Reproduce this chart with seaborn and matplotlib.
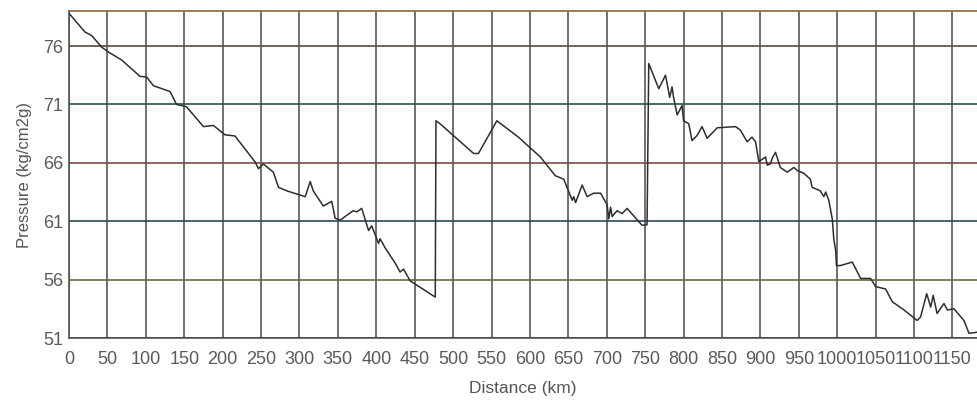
import numpy as np
import pandas as pd
import seaborn as sns
import matplotlib
matplotlib.use("Agg")
import matplotlib.pyplot as plt

# Pipeline pressure profile
distance_km = [
    0, 20.8, 29.5, 42.6, 51, 68.6, 92.5, 101, 110, 131.6, 140, 153, 175, 188, 203, 216,
    242, 246.6, 253, 266, 272.7, 283.6, 307.5, 314, 318, 331, 342, 346.5, 353, 370, 374.8,
    381, 390, 394, 403, 405, 411.7, 424.7, 431, 435.5, 444, 476.8,
    477.7, 483, 526.7, 533, 557, 585, 613.6, 633, 644, 655, 657, 659.5, 668, 674.5, 683,
    692, 700.5, 702.6, 705, 707, 713.5, 720, 726.5, 746, 752.5,
    754.7, 767.7, 776.5, 782, 785, 787, 791.7, 798, 800, 806.8, 811, 817.7, 824, 830.7,
    843.8, 867.6, 874, 882.8, 889, 893.7, 898, 906.7, 909, 913, 915.5, 919.7, 926, 935,
    943.6, 948, 956.6, 965, 967.5, 978, 982.7, 985, 989, 993.6, 995.7, 998, 999, 1004,
    1019.6, 1030.5, 1043.5, 1050, 1063, 1071.8, 1087, 1104, 1108.6, 1116.5, 1121.7, 1125,
    1130, 1139, 1143.4, 1152, 1165, 1171.6, 1182.6,
]
pressure = [
    78.8, 77.2, 76.9, 75.9, 75.5, 74.8, 73.4, 73.35, 72.6, 72.1, 71.0, 70.8, 69.1, 69.2, 68.4, 68.3,
    66.1, 65.5, 65.9, 65.2, 63.9, 63.6, 63.1, 64.4, 63.6, 62.3, 62.7, 61.25, 61.1, 61.9, 61.8,
    62.1, 60.2, 60.6, 59.1, 59.5, 58.7, 57.4, 56.65, 56.9, 55.9, 54.5,
    69.6, 69.35, 66.8, 66.8, 69.6, 68.2, 66.5, 64.9, 64.6, 62.8, 63.1, 62.6, 64.1, 63.1, 63.4,
    63.4, 62.4, 61.2, 62.2, 61.4, 61.9, 61.65, 62.1, 60.65, 60.7,
    74.5, 72.35, 73.5, 71.6, 72.5, 71.6, 70.1, 70.9, 69.6, 69.35, 67.9, 68.35, 69.1, 68.1,
    69.0, 69.1, 68.8, 67.8, 68.2, 67.8, 66.1, 66.5, 65.8, 65.9, 66.4, 66.9, 65.6, 65.2,
    65.6, 65.35, 65.1, 64.6, 63.9, 63.6, 63.1, 63.5, 62.8, 61.2, 59.4, 58.5, 57.2, 57.2,
    57.5, 56.1, 56.1, 55.4, 55.2, 54.1, 53.4, 52.5, 52.8, 54.8, 53.65, 54.65,
    53.1, 53.95, 53.4, 53.5, 52.5, 51.4, 51.5,
]

x_ticks = list(range(0, 1200, 50))
y_ticks = [51, 56, 61, 66, 71, 76]

df = pd.DataFrame({"Distance (km)": distance_km, "Pressure (kg/cm2g)": pressure})

sns.set_style("white")
plt.rcParams["font.family"] = ["Liberation Sans", "DejaVu Sans"]

fig = plt.figure(figsize=(9.77, 4.07), dpi=100)
ax = fig.add_axes([69 / 977, 69 / 407, 908 / 977, 327 / 407])

# grid: vertical lines every 50 km, tinted horizontal lines like the scan
for xv in x_ticks:
    ax.axvline(xv, color="#4a4a4a", lw=1.1, zorder=1)
h_colors = ["#3d4b6a", "#6e6545", "#2e4850", "#7a4a48", "#2f4d4d", "#5c4a3c"]
for yv, c in zip(y_ticks, h_colors):
    ax.axhline(yv, color=c, lw=1.2, zorder=1)

sns.lineplot(data=df, x="Distance (km)", y="Pressure (kg/cm2g)", sort=False,
             estimator=None, color="#2e2e2e", lw=1.1, ax=ax, zorder=3)

ax.set_xlim(0, 1182)
ax.set_ylim(51, 79)
ax.set_xticks(x_ticks)
ax.set_yticks(y_ticks)
ax.tick_params(axis="x", length=6, width=1, color="#4a4a4a", pad=3,
               labelsize=13, labelcolor="#5a5a5a")
ax.tick_params(axis="y", length=3, width=1, color="#4a4a4a", pad=1,
               labelsize=13, labelcolor="#5a5a5a")
ax.set_xlabel("Distance (km)", fontsize=12.5, color="#555555", labelpad=10)
ax.set_ylabel("Pressure (kg/cm2g)", fontsize=12, color="#555555", labelpad=8)

for side in ["left", "bottom"]:
    ax.spines[side].set_color("#4a4a4a")
    ax.spines[side].set_linewidth(1.1)
ax.spines["top"].set_color("#8a6a35")
ax.spines["top"].set_linewidth(1.2)
ax.spines["right"].set_visible(False)

fig.savefig("out.png", dpi=100)
